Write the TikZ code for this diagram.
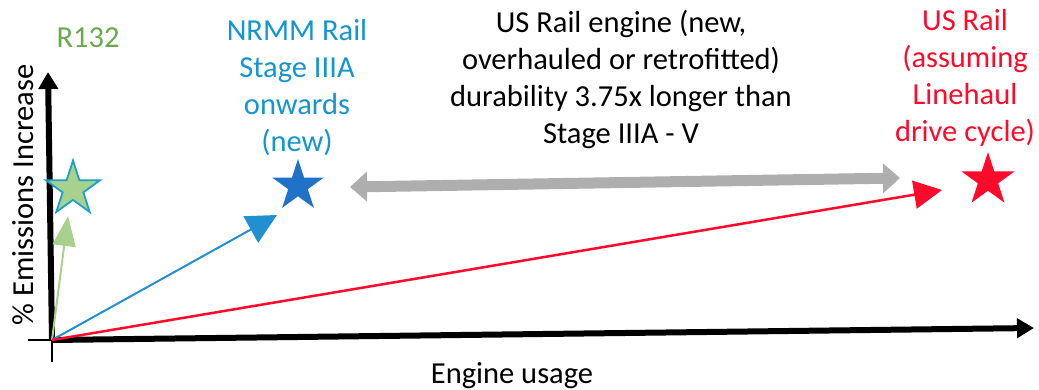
\documentclass[tikz,border=0pt]{standalone}
\usepackage{fontspec}
\setmainfont{Carlito}
\usetikzlibrary{arrows.meta,shapes.geometric}

\definecolor{txtgreen}{HTML}{6AA84F}
\definecolor{txtblue}{HTML}{1396CE}
\definecolor{txtred}{HTML}{FF0A2A}
\definecolor{lgreen}{HTML}{A9D18E}
\definecolor{teal}{HTML}{1BA1C8}
\definecolor{starblue}{HTML}{1F72C8}
\definecolor{lineblue}{HTML}{2290D0}
\definecolor{linered}{HTML}{FF0A2A}
\definecolor{greyarrow}{HTML}{AEAEAE}

\tikzset{
  lbl/.style={font=\fontsize{30.5}{37}\selectfont, inner sep=0pt, align=center},
  axis/.style={line width=6pt, -{Triangle[length=17pt,width=19pt]}},
  thinaxis/.style={line width=1.8pt},
  starshape/.style={star, star points=5, star point ratio=2.618, inner sep=0pt},
  growth/.style={line width=2pt},
}

\begin{document}
\begin{tikzpicture}[x=1pt,y=-1pt]
\useasboundingbox (0,0) rectangle (1039,390);

% axes
\coordinate (O) at (52,340);
\coordinate (xend) at (1034,328);
\coordinate (yend) at (48,72);
\coordinate (xstart) at (28,340);
\coordinate (ystart) at (52,362);
\draw[thinaxis] (xstart) -- (O);
\draw[thinaxis] (ystart) -- (O);
\draw[axis] (O) -- (xend);
\draw[axis] (O) -- (yend);

\node[lbl, anchor=base] (xlab) at (512,383) {Engine usage};
\node[lbl, anchor=base, rotate=90] (ylab) at (33,195) {\% Emissions Increase};

% R132
\node[lbl, anchor=base, text=txtgreen] (r132) at (88,48) {R132};
\node[starshape, minimum size=57pt, fill=lgreen, draw=teal, line width=1.8pt] (gstar) at (73,189) {};
\coordinate (gtip) at (68,216);
\draw[growth, draw=lgreen, -{Triangle[length=30pt,width=23pt]}] (O) -- (gtip);

% NRMM
\node[lbl, anchor=north, text=txtblue] (nrmm) at (297,19)
  {NRMM Rail\\Stage IIIA\\onwards\\(new)};
\node[starshape, minimum size=54pt, fill=starblue] (bstar) at (298,186) {};
\coordinate (btip) at (277,215);
\draw[growth, draw=lineblue, -{Triangle[length=30pt,width=30pt]}] (O) -- (btip);

% US Rail
\node[lbl, anchor=north, text=txtred] (usrail) at (965,9)
  {US Rail\\(assuming\\Linehaul\\drive cycle)};
\node[starshape, minimum size=56pt, fill=txtred] (rstar) at (988,180) {};
\coordinate (rtip) at (942,190);
\draw[line width=2.5pt, draw=linered, -{Triangle[length=28pt,width=28pt]}] (O) -- (rtip);

% durability span
\node[lbl, anchor=north] (dur) at (621,10)
  {US Rail engine (new,\\overhauled or retrofitted)\\durability 3.75x longer than\\Stage IIIA - V};
\coordinate (gl) at (350,187);
\coordinate (gr) at (900,178);
\draw[line width=11pt, draw=greyarrow, {Triangle[length=17pt,width=29pt]}-{Triangle[length=17pt,width=29pt]}] (gl) -- (gr);
\end{tikzpicture}
\end{document}
